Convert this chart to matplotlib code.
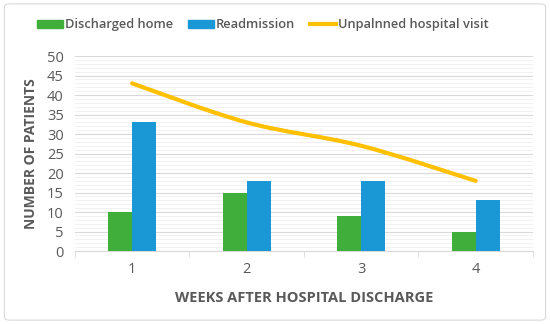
import numpy as np
import matplotlib.pyplot as plt
from matplotlib.path import Path
from matplotlib.patches import PathPatch, FancyBboxPatch
from matplotlib.lines import Line2D

weeks = ['1', '2', '3', '4']
discharged_home = [10, 15, 9, 5]
readmission = [33, 18, 18, 13]
unplanned_visit = [43, 33, 27, 18]

green = '#3fae3a'
blue = '#1a98d5'
yellow = '#ffc000'
txt = '#595959'

plt.rcParams['font.family'] = ['Open Sans', 'DejaVu Sans']

fig = plt.figure(figsize=(5.5, 3.24), dpi=100)
# light border around the chart area
fig.patches.append(FancyBboxPatch((0.008, 0.012), 0.984, 0.976, boxstyle='round,pad=0,rounding_size=0.01',
                                  transform=fig.transFigure, fill=False, ec='#d9d9d9', lw=0.8))
ax = fig.add_axes([0.136, 0.225, 0.833, 0.602])

x = np.arange(1, len(weeks) + 1)
w = 0.21
ax.bar(x - w / 2, discharged_home, w, color=green, zorder=3)
ax.bar(x + w / 2, readmission, w, color=blue, zorder=3)

# smoothed line (catmull-rom like Excel's smooth line)
pts = np.column_stack([x, unplanned_visit]).astype(float)
verts = [pts[0]]
codes = [Path.MOVETO]
for i in range(len(pts) - 1):
    p0 = pts[i - 1] if i > 0 else pts[i]
    p1, p2 = pts[i], pts[i + 1]
    p3 = pts[i + 2] if i + 2 < len(pts) else pts[i + 1]
    c1 = p1 + (p2 - p0) / 6
    c2 = p2 - (p3 - p1) / 6
    verts += [c1, c2, p2]
    codes += [Path.CURVE4] * 3
ax.add_patch(PathPatch(Path(verts, codes), fill=False, ec=yellow, lw=3, capstyle='round', zorder=4))

ax.set_xlim(0.5, 4.5)
ax.set_ylim(0, 50)
ax.set_yticks(np.arange(0, 51, 5))
ax.set_yticks(np.arange(0, 51, 1), minor=True)
ax.set_xticks(x)
ax.set_xticklabels(weeks)
ax.set_xticks([0.5, 1.5, 2.5, 3.5, 4.5], minor=True)
ax.grid(axis='y', which='major', color='#d9d9d9', lw=0.8, zorder=0)
ax.grid(axis='y', which='minor', color='#efefef', lw=0.6, zorder=0)
for s in ['top', 'right', 'left']:
    ax.spines[s].set_visible(False)
ax.spines['bottom'].set_color('#d9d9d9')
ax.tick_params(axis='y', which='both', length=0, labelsize=10.5, labelcolor=txt, pad=8)
ax.tick_params(axis='x', which='major', length=0, labelsize=10.5, labelcolor=txt, pad=8)
ax.tick_params(axis='x', which='minor', length=4, color='#d9d9d9')

ax.set_xlabel('WEEKS AFTER HOSPITAL DISCHARGE', fontsize=10.5, fontweight='bold', color=txt, labelpad=10)
ax.set_ylabel('NUMBER OF PATIENTS', fontsize=10, fontweight='bold', color=txt, labelpad=6)

handles = [plt.Rectangle((0, 0), 1, 1, color=green),
           plt.Rectangle((0, 0), 1, 1, color=blue),
           Line2D([], [], color=yellow, lw=3)]
fig.legend(handles, ['Discharged home', 'Readmission', 'Unpalnned hospital visit'],
           loc='center', bbox_to_anchor=(0.478, 0.923), ncol=3, frameon=False,
           prop={'size': 9.3, 'weight': 'semibold'}, labelcolor=txt, handlelength=2.0,
           handleheight=0.6, handletextpad=0.2, columnspacing=1.1)

fig.savefig('out.png', dpi=100)
